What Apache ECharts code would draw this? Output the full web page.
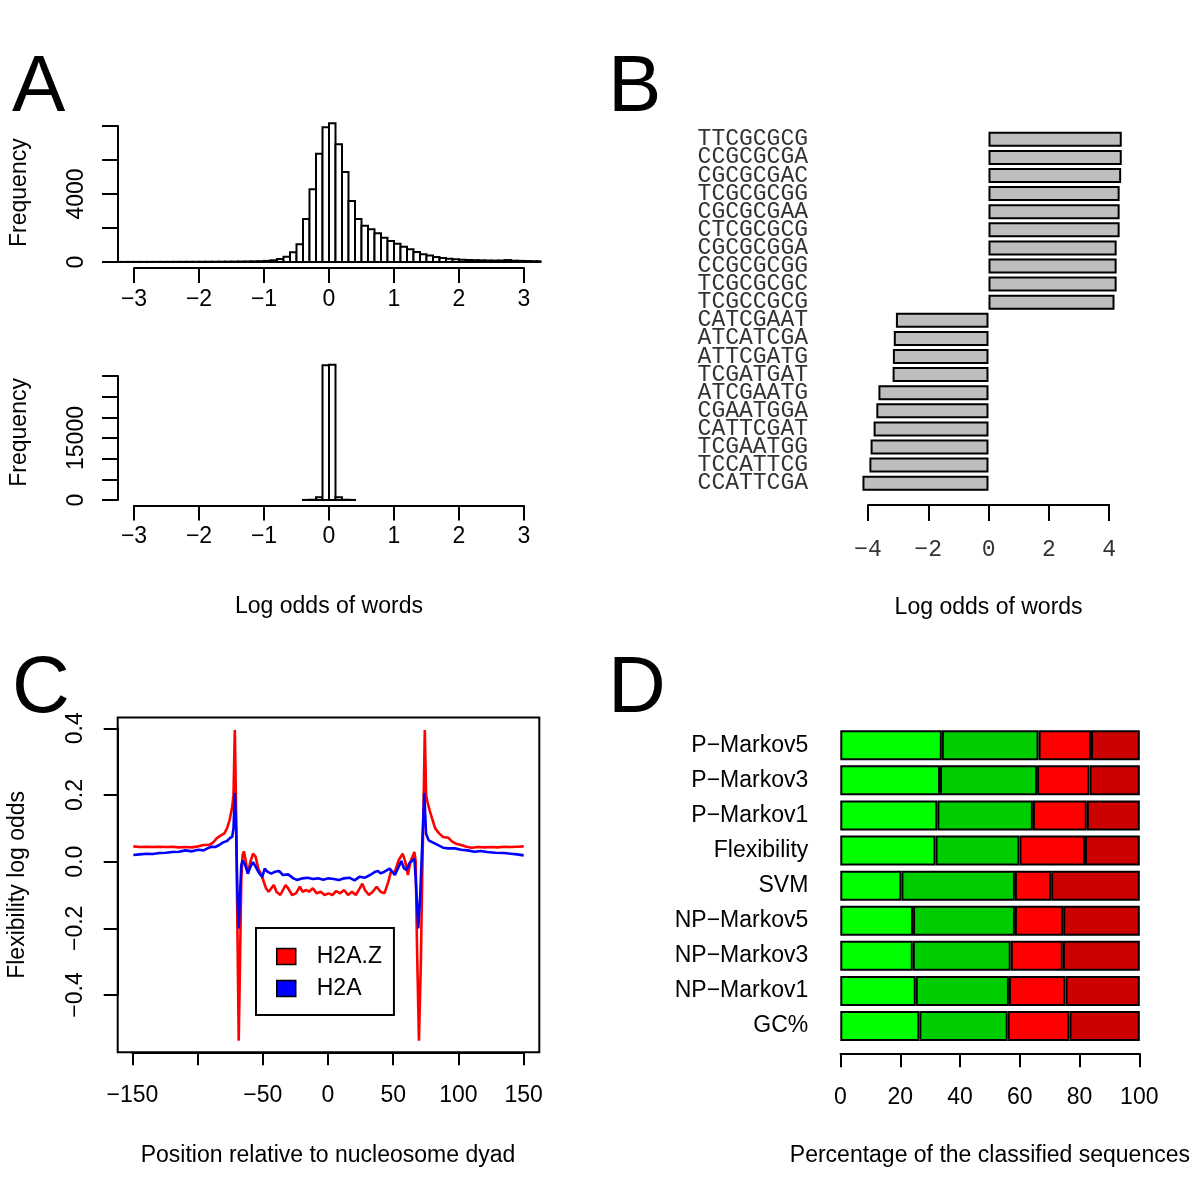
<!DOCTYPE html>
<html>
<head>
<meta charset="utf-8">
<script src="https://cdn.jsdelivr.net/npm/echarts@6/dist/echarts.min.js"></script>
<style>
html, body { margin: 0; padding: 0; background: #fff; }
#chart { width: 1200px; height: 1200px; }
</style>
</head>
<body>
<div id="chart"></div>
<script>
// ---- panel A: histograms of log odds (bin width 0.1)
var binWidth = 0.1;
var histTopStart = -3.3;
var histTopCounts = [2, 2, 3, 3, 4, 4, 5, 5, 6, 7, 8, 9, 10, 11, 12, 14, 16, 18, 21, 25, 30, 36, 45,
  62, 98, 176, 314, 569, 1039, 2529, 4275, 6373, 7924,
  8159, 6924, 5294, 3588, 2529, 2137, 1922, 1686, 1431, 1235,
  1078, 902, 745, 588, 451, 373, 294, 235, 196, 157,
  135, 118, 105, 95, 85, 80, 85, 110, 75, 65,
  55, 45, 40];
var histBottomStart = -0.4;
var histBottomCounts = [20, 60, 650, 32600, 32700, 650, 60, 20];

// ---- panel B: top words
var words = ['TTCGCGCG', 'CCGCGCGA', 'CGCGCGAC', 'TCGCGCGG', 'CGCGCGAA', 'CTCGCGCG', 'CGCGCGGA',
  'CCGCGCGG', 'TCGCGCGC', 'TCGCCGCG', 'CATCGAAT', 'ATCATCGA', 'ATTCGATG', 'TCGATGAT',
  'ATCGAATG', 'CGAATGGA', 'CATTCGAT', 'TCGAATGG', 'TCCATTCG', 'CCATTCGA'];
var wordLogOdds = [4.42, 4.42, 4.40, 4.35, 4.35, 4.35, 4.25, 4.25, 4.25, 4.18,
  -3.07, -3.14, -3.17, -3.18, -3.65, -3.72, -3.81, -3.91, -3.95, -4.18];

// ---- panel C: flexibility profiles
var posH2AZ = [-150, -145, -140, -135, -130, -125, -120, -115, -110, -105, -100, -96, -92, -89, -86, -83,
  -80, -78, -76, -74, -73, -72, -71, -70, -69, -68, -67, -66, -65, -64, -62, -60, -58, -56, -54,
  -51, -48, -46, -44, -42, -40, -37, -35, -33, -31, -28, -25, -22, -20, -17, -15, -12, -9, -6, -3,
  0, 3, 6, 9, 12, 15, 18, 21, 24, 26, 28, 31, 34, 37, 40, 43, 46, 48, 51, 54, 57, 59, 61, 63, 66,
  67, 68, 69.5, 71, 72, 73, 74, 75, 76, 78, 80, 82, 85, 88, 92, 95, 98, 102, 106, 110, 115, 120,
  125, 130, 135, 140, 145, 150];
var h2azValues = [0.046, 0.044, 0.045, 0.044, 0.045, 0.044, 0.045, 0.043, 0.044, 0.043, 0.046, 0.050,
  0.050, 0.056, 0.070, 0.078, 0.085, 0.100, 0.125, 0.165, 0.200, 0.395, 0.150, -0.200, -0.537,
  -0.300, -0.050, 0.020, 0.031, 0.010, -0.035, 0.000, 0.024, 0.015, -0.020,
  -0.046, -0.080, -0.090, -0.080, -0.070, -0.090, -0.100, -0.085, -0.070, -0.080, -0.100, -0.095,
  -0.075, -0.090, -0.085, -0.090, -0.080, -0.095, -0.090, -0.100,
  -0.095, -0.100, -0.088, -0.095, -0.085, -0.100, -0.090, -0.100, -0.080, -0.066, -0.085, -0.100,
  -0.090, -0.075, -0.090, -0.095, -0.060, -0.030, -0.030, 0.005, 0.024, 0.000, -0.040, 0.000, 0.029,
  0.000, -0.250, -0.537, -0.300, -0.050, 0.150, 0.395, 0.200, 0.180, 0.150, 0.125, 0.100, 0.085,
  0.074, 0.072, 0.060, 0.054, 0.050, 0.045, 0.042, 0.044, 0.043,
  0.044, 0.043, 0.045, 0.044, 0.045, 0.046];
var posH2A = [-150, -145, -140, -135, -130, -125, -120, -115, -110, -105, -100, -96, -93, -90, -87, -84,
  -81, -78, -76, -74, -73, -72, -71, -70, -69, -68, -67, -66, -64, -62, -60, -58, -56, -54, -51,
  -49, -47, -44, -41, -38, -35, -31, -27, -24, -20, -16, -12, -8, -4, 0, 4, 8, 12, 16, 20, 24, 28,
  32, 36, 38, 40, 43, 47, 51, 54, 56, 58, 60, 62, 66, 67, 69, 70.5, 72, 73.6, 75, 77, 80, 82, 85,
  88, 92, 97, 102, 107, 112, 117, 122, 128, 135, 140, 145, 150];
var h2aValues = [0.020, 0.022, 0.024, 0.023, 0.026, 0.027, 0.029, 0.030, 0.034, 0.031, 0.036, 0.034,
  0.040, 0.045, 0.044, 0.050, 0.058, 0.062, 0.070, 0.075, 0.100, 0.206, 0.100, -0.100, -0.200,
  -0.100, -0.010, 0.004, -0.010, -0.036, -0.015, -0.001, -0.015, -0.030, -0.046,
  -0.021, -0.030, -0.036, -0.030, -0.028, -0.040, -0.038, -0.050, -0.055, -0.050, -0.048, -0.052,
  -0.050, -0.054, -0.050, -0.052, -0.055, -0.050, -0.048, -0.056, -0.045, -0.048,
  -0.040, -0.030, -0.028, -0.035, -0.030, -0.021, -0.040, -0.015, 0.002, -0.020, -0.025, -0.005,
  0.009, -0.050, -0.200, -0.100, 0.050, 0.206, 0.084, 0.064, 0.058, 0.054, 0.048,
  0.042, 0.040, 0.040, 0.036, 0.034, 0.030, 0.032, 0.029, 0.027, 0.026, 0.024, 0.022, 0.019];

// ---- panel D: classification of sequences (percent)
var methods = ['P\u2212Markov5', 'P\u2212Markov3', 'P\u2212Markov1', 'Flexibility', 'SVM',
  'NP\u2212Markov5', 'NP\u2212Markov3', 'NP\u2212Markov1', 'GC%'];
var classA = [33.9, 33.3, 32.4, 31.8, 20.4, 24.3, 24.2, 25.2, 26.4];
var classB = [32.3, 32.4, 31.9, 28.0, 37.9, 34.0, 32.7, 31.1, 29.5];
var classC = [17.5, 17.5, 18.0, 21.9, 12.1, 16.1, 17.4, 18.9, 20.6];
var classD = [16.3, 16.8, 17.7, 18.3, 29.6, 25.6, 25.7, 24.8, 23.5];
var classColors = ['#00ff00', '#00cd00', '#ff0000', '#cd0000'];

var SANS = 'Liberation Sans';
var MONO = 'Liberation Mono';
var FS = 23;

function minus(v) {
  return String(v).replace('-', '\u2212');
}

function zipXY(xs, ys) {
  var out = [];
  for (var i = 0; i < xs.length; i++) out.push([xs[i], ys[i]]);
  return out;
}

function histData(start, counts) {
  var out = [];
  for (var i = 0; i < counts.length; i++) {
    var a = +(start + i * binWidth).toFixed(2);
    out.push([a, +(a + binWidth).toFixed(2), counts[i]]);
  }
  return out;
}

function renderBin(params, api) {
  var p0 = api.coord([api.value(0), api.value(2)]);
  var p1 = api.coord([api.value(1), 0]);
  var rect = echarts.graphic.clipRectByRect({
    x: p0[0], y: p0[1], width: p1[0] - p0[0], height: p1[1] - p0[1]
  }, {
    x: params.coordSys.x - 1, y: params.coordSys.y,
    width: params.coordSys.width + 2, height: params.coordSys.height
  });
  return rect && {
    type: 'rect',
    shape: rect,
    style: { fill: '#fff', stroke: '#000', lineWidth: 2 }
  };
}

// axis with nothing but (maybe) a name
function bareAxis(dim, grid, min, max, name, gap) {
  return {
    type: 'value', gridIndex: grid, min: min, max: max, show: !!name,
    name: name || '', nameLocation: 'middle', nameGap: gap || 0,
    nameRotate: dim === 'y' ? 90 : 0,
    nameTextStyle: { fontSize: FS, fontFamily: SANS, color: '#000' },
    axisLine: { show: false }, axisTick: { show: false },
    axisLabel: { show: false }, splitLine: { show: false }
  };
}

// visible R-like axis
function rAxis(grid, pos, min, max, interval, fmt, opts) {
  opts = opts || {};
  return {
    type: 'value', gridIndex: grid, position: pos, min: min, max: max, interval: interval,
    name: opts.name || '', nameLocation: 'middle', nameGap: opts.nameGap || 0,
    nameTextStyle: { fontSize: FS, fontFamily: SANS, color: '#000' },
    axisLine: { show: true, onZero: false, lineStyle: { color: '#000', width: 2 } },
    axisTick: { show: true, length: opts.tick || 14, lineStyle: { color: '#000', width: 2 } },
    axisLabel: {
      show: true, formatter: fmt, margin: opts.margin || 30, rotate: opts.rotate || 0,
      fontSize: opts.fontSize || FS, fontFamily: opts.font || SANS, color: opts.color || '#000'
    },
    splitLine: { show: false }
  };
}

var grids = [
  { left: 118.4, top: 117.8, width: 421.2, height: 149.7 },   // 0 A top data
  { left: 134, top: 258, width: 390, height: 10 },           // 1 A top x axis
  { left: 118, top: 126, width: 10, height: 136 },           // 2 A top y axis
  { left: 118.4, top: 359.4, width: 421.2, height: 146 },    // 3 A bottom data
  { left: 134, top: 495.5, width: 390, height: 10 },         // 4 A bottom x axis
  { left: 118, top: 376, width: 10, height: 124 },           // 5 A bottom y axis
  { left: 852.8, top: 130.25, width: 278.9, height: 362 },   // 6 B data
  { left: 868, top: 495, width: 241.2, height: 10 },         // 7 B x axis
  { left: 117.7, top: 717.4, width: 421.6, height: 334.9,
    show: true, borderColor: '#000', borderWidth: 2, backgroundColor: 'transparent' }, // 8 C data
  { left: 132.4, top: 1042.3, width: 391.2, height: 10 },    // 9 C x axis
  { left: 117.7, top: 728.3, width: 10, height: 266.7 },     // 10 C y axis
  { left: 828.3, top: 727.7, width: 323.5, height: 315.9 },  // 11 D data
  { left: 840.5, top: 1043.3, width: 298.8, height: 10 }     // 12 D x axis
];

var plainFmt = function (v) { return minus(v); };

var xAxes = [
  bareAxis('x', 0, -3.24, 3.24),
  rAxis(1, 'bottom', -3, 3, 1, plainFmt, { margin: 20, tick: 15 }),
  bareAxis('x', 2, 0, 1),
  bareAxis('x', 3, -3.24, 3.24),
  rAxis(4, 'bottom', -3, 3, 1, plainFmt, { margin: 20, tick: 15, name: 'Log odds of words', nameGap: 90 }),
  bareAxis('x', 5, 0, 1),
  bareAxis('x', 6, -4.5, 4.75),
  rAxis(7, 'bottom', -4, 4, 2, plainFmt, {
    margin: 33, font: MONO, fontSize: 23, color: '#333', tick: 16,
    name: 'Log odds of words', nameGap: 91
  }),
  bareAxis('x', 8, -162, 162),
  rAxis(9, 'bottom', -150, 150, 50, function (v) { return v === -100 ? '' : minus(v); }, {
    margin: 32, tick: 13, name: 'Position relative to nucleosome dyad', nameGap: 92
  }),
  bareAxis('x', 10, 0, 1),
  bareAxis('x', 11, -4, 104),
  rAxis(12, 'bottom', 0, 100, 20, plainFmt, {
    margin: 33, name: 'Percentage of the classified sequences', nameGap: 91
  })
];

var yAxes = [
  bareAxis('y', 0, -326, 8485, 'Frequency', 87),
  bareAxis('y', 1, 0, 1),
  rAxis(2, 'left', 0, 8000, 2000, function (v) { return (v === 0 || v === 4000) ? String(v) : ''; },
    { rotate: 90, margin: 30, tick: 16 }),
  bareAxis('y', 3, -1308, 34008, 'Frequency', 87),
  bareAxis('y', 4, 0, 1),
  rAxis(5, 'left', 0, 30000, 5000, function (v) { return (v === 0 || v === 15000) ? String(v) : ''; },
    { rotate: 90, margin: 30, tick: 16 }),
  {
    type: 'category', gridIndex: 6, data: words, inverse: true,
    axisLine: { show: false, onZero: false }, axisTick: { show: false },
    axisLabel: { interval: 0, margin: 44.8, fontFamily: MONO, fontSize: 23, color: '#333' },
    splitLine: { show: false }
  },
  bareAxis('y', 7, 0, 1),
  bareAxis('y', 8, -0.572, 0.433, 'Flexibility log odds', 89),
  bareAxis('y', 9, 0, 1),
  rAxis(10, 'left', -0.4, 0.4, 0.2, function (v) {
    return Math.abs(v) < 1e-9 ? '0.0' : minus(v.toFixed(1));
  }, { rotate: 90, margin: 31, tick: 14 }),
  {
    type: 'category', gridIndex: 11, data: methods, inverse: true,
    axisLine: { show: false, onZero: false }, axisTick: { show: false },
    axisLabel: { interval: 0, margin: 20, fontFamily: SANS, fontSize: FS, color: '#000' },
    splitLine: { show: false }
  },
  bareAxis('y', 12, 0, 1)
];

var classSeries = [classA, classB, classC, classD].map(function (vals, i) {
  return {
    type: 'bar', name: 'class' + (i + 1), stack: 'total', xAxisIndex: 11, yAxisIndex: 11,
    barWidth: 30, data: vals, silent: true,
    itemStyle: { color: classColors[i], borderColor: '#000', borderWidth: 2 }
  };
});

var letterStyle = { fontSize: 80, fontWeight: 'normal', fontFamily: SANS, color: '#000' };

var option = {
  animation: false,
  backgroundColor: '#fff',
  textStyle: { fontFamily: SANS },
  title: [
    { text: 'A', left: 7, top: 44, textStyle: letterStyle },
    { text: 'B', left: 603, top: 44, textStyle: letterStyle },
    { text: 'C', left: 7, top: 645, textStyle: letterStyle },
    { text: 'D', left: 603, top: 645, textStyle: letterStyle }
  ],
  legend: {
    data: ['H2A.Z', 'H2A'], orient: 'vertical', left: 256, top: 928,
    padding: [17, 12, 15, 20], itemGap: 9, itemWidth: 19, itemHeight: 16,
    icon: 'rect', borderColor: '#000', borderWidth: 2,
    itemStyle: { borderColor: '#000', borderWidth: 1.5 },
    textStyle: { fontSize: FS, fontFamily: SANS, color: '#000', padding: [0, 0, 0, 16] }
  },
  grid: grids,
  xAxis: xAxes,
  yAxis: yAxes,
  series: [
    {
      type: 'custom', xAxisIndex: 0, yAxisIndex: 0, renderItem: renderBin,
      data: histData(histTopStart, histTopCounts), silent: true
    },
    {
      type: 'custom', xAxisIndex: 3, yAxisIndex: 3, renderItem: renderBin,
      data: histData(histBottomStart, histBottomCounts), silent: true
    },
    {
      type: 'bar', xAxisIndex: 6, yAxisIndex: 6, data: wordLogOdds, barWidth: 15, silent: true,
      itemStyle: { color: '#bebebe', borderColor: '#000', borderWidth: 2 }
    },
    {
      type: 'line', name: 'H2A.Z', xAxisIndex: 8, yAxisIndex: 8, data: zipXY(posH2AZ, h2azValues),
      showSymbol: false, clip: true, lineStyle: { color: '#ff0000', width: 2.6 },
      itemStyle: { color: '#ff0000' }
    },
    {
      type: 'line', name: 'H2A', xAxisIndex: 8, yAxisIndex: 8, data: zipXY(posH2A, h2aValues),
      showSymbol: false, clip: true, lineStyle: { color: '#0000ff', width: 2.6 },
      itemStyle: { color: '#0000ff' }
    }
  ].concat(classSeries)
};

var chart = echarts.init(document.getElementById('chart'));
chart.setOption(option);

window.addEventListener('resize', function () {
  chart.resize();
});
</script>
</body>
</html>
